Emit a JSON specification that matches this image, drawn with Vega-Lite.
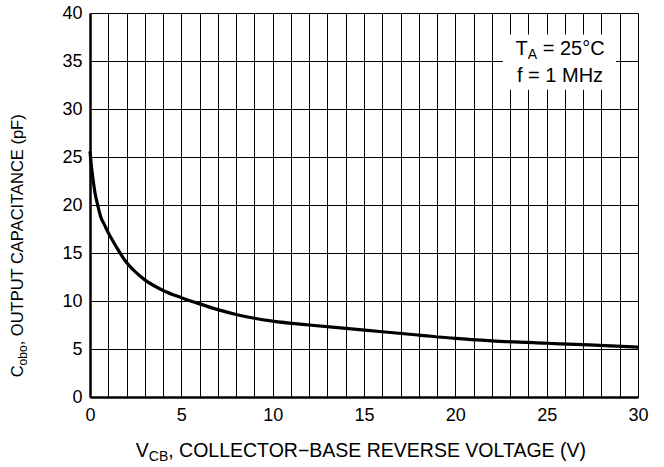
{
  "$schema": "https://vega.github.io/schema/vega-lite/v6.json",
  "width": 548,
  "height": 384,
  "autosize": {"type": "none"},
  "padding": {"left": 90, "top": 13, "right": 26, "bottom": 70},
  "background": "white",
  "config": {
    "view": {"stroke": null},
    "font": "Liberation Sans",
    "axis": {
      "domainColor": "black",
      "domainWidth": 2.5,
      "grid": true,
      "gridColor": "black",
      "gridWidth": 1,
      "gridOpacity": 1,
      "ticks": false,
      "labelFont": "Liberation Sans",
      "labelFontSize": 18,
      "labelColor": "black"
    }
  },
  "encoding": {
    "x": {
      "field": "v", "type": "quantitative", "title": null,
      "scale": {"domain": [0, 30], "nice": false},
      "axis": {
        "values": [0,1,2,3,4,5,6,7,8,9,10,11,12,13,14,15,16,17,18,19,20,21,22,23,24,25,26,27,28,29,30],
        "labelExpr": "datum.value % 5 === 0 ? datum.label : ''",
        "labelPadding": 9,
        "labelFlush": false,
        "labelOverlap": false,
        "title": null
      }
    },
    "y": {
      "field": "c", "type": "quantitative", "title": null,
      "scale": {"domain": [0, 40], "nice": false},
      "axis": {"values": [0,5,10,15,20,25,30,35,40], "labelPadding": 8, "labelFlush": false, "labelOverlap": false, "title": null}
    }
  },
  "layer": [
    {
      "data": {"values": [{"v": 22.6, "v2": 28.8, "c": 32.0, "c2": 37.75}]},
      "mark": {"type": "rect", "fill": "white"},
      "encoding": {
        "x2": {"field": "v2"},
        "y2": {"field": "c2"}
      }
    },
    {
      "data": {"values": [
        {"v": 0, "c": 25.6}, {"v": 0.08, "c": 24.0}, {"v": 0.17, "c": 22.6}, {"v": 0.28, "c": 21.2},
        {"v": 0.42, "c": 20.0}, {"v": 0.6, "c": 18.7}, {"v": 0.8, "c": 17.9}, {"v": 1, "c": 17.1},
        {"v": 1.3, "c": 16.1}, {"v": 1.5, "c": 15.45}, {"v": 2, "c": 14.0}, {"v": 2.5, "c": 13.0},
        {"v": 3, "c": 12.2}, {"v": 4, "c": 11.1}, {"v": 5, "c": 10.35}, {"v": 6, "c": 9.7},
        {"v": 7, "c": 9.1}, {"v": 8, "c": 8.6}, {"v": 9, "c": 8.2}, {"v": 10, "c": 7.9},
        {"v": 12, "c": 7.5}, {"v": 14, "c": 7.15}, {"v": 16, "c": 6.8}, {"v": 18, "c": 6.45},
        {"v": 20, "c": 6.1}, {"v": 22, "c": 5.85}, {"v": 25, "c": 5.6}, {"v": 27, "c": 5.45},
        {"v": 30, "c": 5.2}
      ]},
      "mark": {"type": "line", "color": "black", "strokeWidth": 3.2, "interpolate": "monotone"}
    },
    {
      "data": {"values": [{"v": 25.73, "c": 35.625, "t": "T"}]},
      "mark": {"type": "text", "align": "left", "baseline": "alphabetic", "fontSize": 20, "dx": -44.5, "color": "black"},
      "encoding": {"text": {"field": "t"}}
    },
    {
      "data": {"values": [{"v": 25.73, "c": 35.625, "t": "A"}]},
      "mark": {"type": "text", "align": "left", "baseline": "alphabetic", "fontSize": 14, "dx": -32.3, "dy": 4, "color": "black"},
      "encoding": {"text": {"field": "t"}}
    },
    {
      "data": {"values": [{"v": 25.73, "c": 35.625, "t": "= 25°C"}]},
      "mark": {"type": "text", "align": "left", "baseline": "alphabetic", "fontSize": 20, "dx": -17.3, "color": "black"},
      "encoding": {"text": {"field": "t"}}
    },
    {
      "data": {"values": [{"v": 25.73, "c": 32.84, "t": "f = 1 MHz"}]},
      "mark": {"type": "text", "align": "center", "baseline": "alphabetic", "fontSize": 20, "color": "black"},
      "encoding": {"text": {"field": "t"}}
    },
    {
      "data": {"values": [{"v": 14.92, "c": -6.25, "t": "V"}]},
      "mark": {"type": "text", "align": "left", "baseline": "alphabetic", "fontSize": 19.5, "dx": -226.7, "color": "black"},
      "encoding": {"text": {"field": "t"}}
    },
    {
      "data": {"values": [{"v": 14.92, "c": -6.25, "t": "CB"}]},
      "mark": {"type": "text", "align": "left", "baseline": "alphabetic", "fontSize": 14, "dx": -213.7, "dy": 4.3, "color": "black"},
      "encoding": {"text": {"field": "t"}}
    },
    {
      "data": {"values": [{"v": 14.92, "c": -6.25, "t": ", COLLECTOR−BASE REVERSE VOLTAGE (V)"}]},
      "mark": {"type": "text", "align": "left", "baseline": "alphabetic", "fontSize": 19.5, "dx": -194.3, "color": "black"},
      "encoding": {"text": {"field": "t"}}
    },
    {
      "data": {"values": [{"v": -3.684, "c": 15.89, "t": "C"}]},
      "mark": {"type": "text", "align": "left", "baseline": "alphabetic", "angle": 270, "fontSize": 16.5, "dx": -132.85, "color": "black"},
      "encoding": {"text": {"field": "t"}}
    },
    {
      "data": {"values": [{"v": -3.684, "c": 15.89, "t": "obo"}]},
      "mark": {"type": "text", "align": "left", "baseline": "alphabetic", "angle": 270, "fontSize": 12, "dx": -120.94, "dy": 4.5, "color": "black"},
      "encoding": {"text": {"field": "t"}}
    },
    {
      "data": {"values": [{"v": -3.684, "c": 15.89, "t": ", OUTPUT CAPACITANCE (pF)"}]},
      "mark": {"type": "text", "align": "left", "baseline": "alphabetic", "angle": 270, "fontSize": 16.5, "dx": -100.9, "color": "black"},
      "encoding": {"text": {"field": "t"}}
    }
  ]
}
